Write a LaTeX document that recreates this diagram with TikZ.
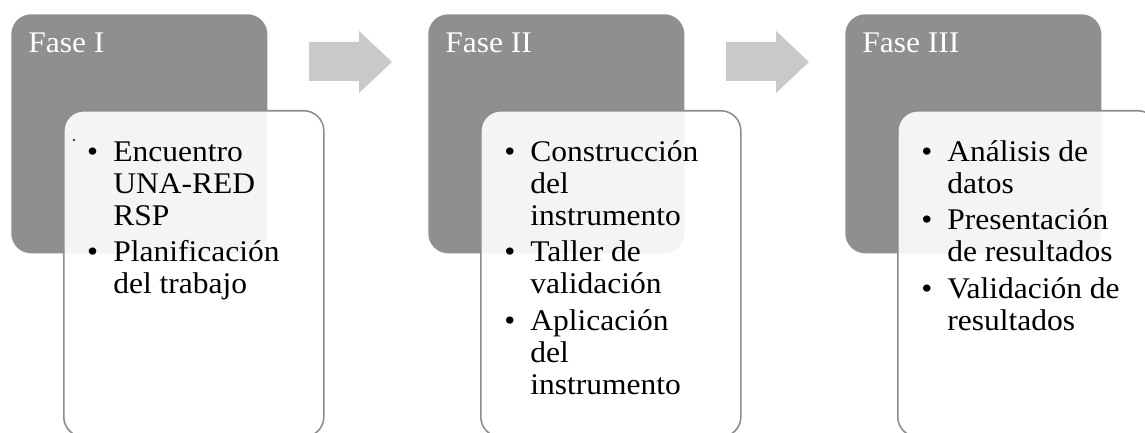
\documentclass[tikz,border=0pt]{standalone}
\usepackage{fontspec}
\setmainfont{Liberation Serif}[FakeStretch=1.05]
\usetikzlibrary{calc}
\definecolor{fasegray}{RGB}{143,143,143}
\definecolor{arrowgray}{RGB}{201,201,201}
\definecolor{edgegray}{RGB}{140,140,140}
\newcommand{\bul}{\leavevmode\llap{\textbullet\hspace{0.375cm}}}

\begin{document}
\begin{tikzpicture}[x=0.025cm,y=-0.025cm]
        \tikzstyle{darkbox}=[fill=fasegray, rounded corners=0.5cm, minimum width=6.4cm, minimum height=5.975cm, anchor=north west, inner sep=0]
        \tikzstyle{whitebox}=[draw=edgegray, line width=1.1pt, fill=white, fill opacity=0.9, rounded corners=0.5cm, minimum width=6.5cm, minimum height=8.15cm, anchor=north west, inner sep=0]
        \tikzstyle{fasetext}=[text=white, anchor=base west, inner sep=0, font=\fontsize{21.34pt}{22.76pt}\selectfont]
        \tikzstyle{itemtext}=[anchor=base west, inner sep=0, font=\fontsize{21.34pt}{22.76pt}\selectfont]

        \clip (0,0) rectangle (1145,433);

        \foreach \i/\num/\items in {0/I/{\bul Encuentro\\UNA-RED\\RSP\\[3.2pt]\bul Planificación\\del trabajo},
                                    1/II/{\bul Construcción\\del\\instrumento\\[3.2pt]\bul Taller de\\validación\\[3.2pt]\bul Aplicación\\del\\instrumento},
                                    2/III/{\bul Análisis de\\datos\\[3.2pt]\bul Presentación\\de resultados\\[3.2pt]\bul Validación de\\resultados}} {
            \begin{scope}[shift={(\i*417,0)}]
                \node[darkbox] (d_\i) at (11,14) {};
                \node[fasetext] (f_\i) at (28,53) {Fase \num};
                \node[whitebox] (w_\i) at (63,110) {};
                \node[itemtext] (t_\i) at (113,161) {\parbox[t]{5cm}{\raggedright\items}};
            \end{scope}
        }

        \fill (74,140) circle[radius=0.8pt];

        \foreach \i in {0,1} {
            \begin{scope}[shift={(\i*417,0)}]
                \fill[arrowgray] (309,42) -- (359,42) -- (359,31) -- (392,62) -- (359,93) -- (359,81) -- (309,81) -- cycle;
            \end{scope}
        }

    \end{tikzpicture}
\end{document}
